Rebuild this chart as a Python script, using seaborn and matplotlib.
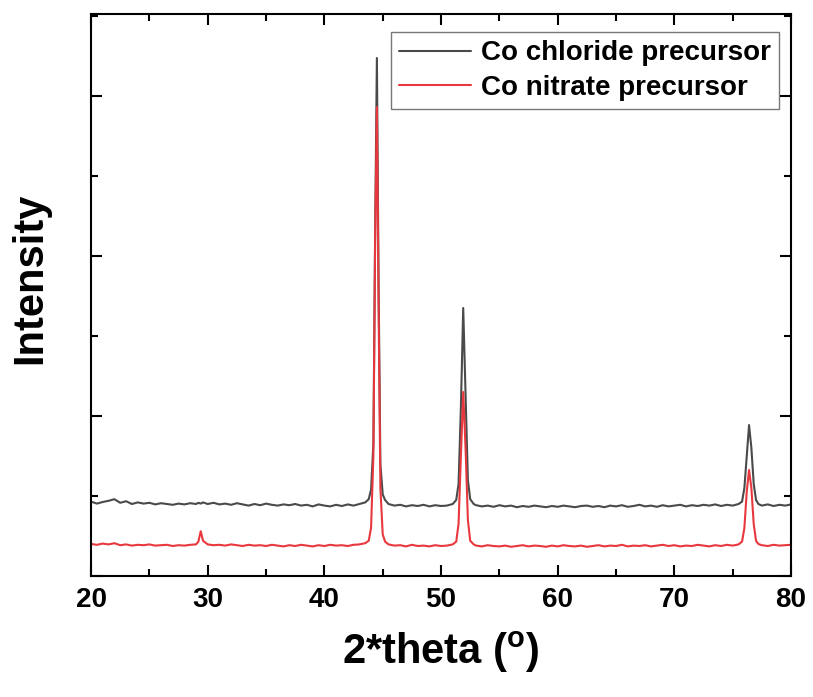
import pandas as pd
import matplotlib
matplotlib.use("Agg")
import matplotlib.pyplot as plt
import seaborn as sns
from matplotlib.ticker import MultipleLocator

# 2-theta positions (deg), shared by both patterns
two_theta = [
    20.0, 20.5, 21.0, 21.5, 22.0, 22.5, 23.0, 23.5, 24.0, 24.5,
    25.0, 25.5, 26.0, 26.5, 27.0, 27.5, 28.0, 28.5, 29.0,
    29.2, 29.4, 29.6,
    30.0, 30.5, 31.0, 31.5, 32.0, 32.5, 33.0, 33.5, 34.0, 34.5,
    35.0, 35.5, 36.0, 36.5, 37.0, 37.5, 38.0, 38.5, 39.0, 39.5,
    40.0, 40.5, 41.0, 41.5, 42.0, 42.5, 43.0, 43.5,
    43.8, 44.0, 44.2, 44.35, 44.5, 44.65, 44.8, 45.0, 45.2,
    45.5, 46.0, 46.5, 47.0, 47.5, 48.0, 48.5, 49.0, 49.5, 50.0, 50.5, 51.0,
    51.3, 51.5, 51.7, 51.9, 52.1, 52.3, 52.5, 52.8,
    53.0, 53.5, 54.0, 54.5, 55.0, 55.5, 56.0, 56.5, 57.0, 57.5,
    58.0, 58.5, 59.0, 59.5, 60.0, 60.5, 61.0, 61.5, 62.0, 62.5,
    63.0, 63.5, 64.0, 64.5, 65.0, 65.5, 66.0, 66.5, 67.0, 67.5,
    68.0, 68.5, 69.0, 69.5, 70.0, 70.5, 71.0, 71.5, 72.0, 72.5,
    73.0, 73.5, 74.0, 74.5, 75.0, 75.5,
    75.8, 76.0, 76.2, 76.4, 76.6, 76.8, 77.0, 77.2,
    77.5, 78.0, 78.5, 79.0, 79.5, 80.0,
]

# intensities (a.u., offset as plotted)
chloride = [
    930, 905, 925, 940, 960, 915, 935, 900, 920, 905,
    915, 895, 910, 900, 890, 905, 895, 910, 900,
    915, 905, 920,
    900, 915, 895, 905, 890, 910, 895, 880, 900, 885,
    905, 890, 880, 895, 885, 900, 880, 890, 870, 895,
    880, 870, 890, 875, 895, 880, 900, 920,
    960, 1080, 1650, 4300, 6475, 3600, 1400, 1020, 950,
    900, 880, 890, 870, 885, 875, 890, 870, 885, 875, 880, 900,
    950, 1150, 2100, 3350, 2300, 1200, 960, 900,
    885, 870, 880, 865, 885, 870, 880, 860, 875, 865,
    880, 870, 860, 875, 865, 880, 870, 860, 875, 880,
    865, 875, 860, 880, 870, 885, 865, 875, 890, 870,
    880, 865, 885, 870, 880, 890, 870, 885, 875, 890,
    880, 895, 875, 890, 880, 900,
    930, 1100, 1500, 1887, 1600, 1150, 950, 900,
    880, 895, 875, 890, 880, 895,
]

nitrate = [
    400, 390, 405, 395, 410, 385, 395, 380, 390, 385,
    395, 380, 385, 390, 375, 385, 380, 390, 395,
    430, 560, 440,
    395, 385, 390, 380, 395, 385, 375, 390, 380, 385,
    375, 390, 380, 370, 385, 375, 390, 380, 370, 385,
    375, 390, 380, 385, 375, 390, 395, 410,
    440, 600, 1500, 4200, 5862, 3300, 1100, 520, 430,
    395, 380, 385, 370, 390, 375, 380, 370, 385, 375, 380, 395,
    430, 650, 1500, 2300, 1600, 700, 440, 395,
    380, 370, 385, 375, 370, 380, 365, 375, 385, 370,
    380, 375, 365, 380, 370, 385, 375, 370, 380, 365,
    375, 385, 370, 380, 375, 390, 370, 380, 375, 385,
    370, 380, 390, 375, 385, 370, 380, 375, 390, 380,
    370, 385, 375, 390, 380, 395,
    430, 600, 1050, 1325, 1100, 650, 440, 400,
    385, 375, 390, 380, 385, 390,
]

labels = ["Co chloride precursor", "Co nitrate precursor"]
colors = ["#4a4a4a", "#e8383d"]

sns.set_style("white")
plt.rcParams["font.family"] = ["Liberation Sans", "DejaVu Sans"]
plt.rcParams["font.weight"] = "bold"
plt.rcParams["text.color"] = "black"
plt.rcParams["axes.labelcolor"] = "black"
plt.rcParams["xtick.color"] = "black"
plt.rcParams["ytick.color"] = "black"

fig = plt.figure(figsize=(8.13, 6.97), dpi=100)
ax = fig.add_axes([0.112, 0.1736, 0.861, 0.8063])

df = pd.DataFrame({"two_theta": two_theta, labels[0]: chloride, labels[1]: nitrate})
for lab, col in zip(labels, colors):
    sns.lineplot(data=df, x="two_theta", y=lab, color=col, linewidth=1.5, label=lab, ax=ax)

ax.set_xlim(20, 80)
ax.set_ylim(0, 7025)
ax.xaxis.set_major_locator(MultipleLocator(10))
ax.xaxis.set_minor_locator(MultipleLocator(5))
ax.yaxis.set_major_locator(MultipleLocator(2000))
ax.yaxis.set_minor_locator(MultipleLocator(1000))
ax.tick_params(which="both", direction="in", bottom=True, left=True, top=True, right=True,
               width=1.5, color="black")
ax.tick_params(which="major", length=8, labelsize=20, pad=8, labelcolor="black")
ax.tick_params(which="minor", length=5)
ax.set_yticklabels([])
for lbl in ax.get_xticklabels():
    lbl.set_fontweight("bold")
for s in ax.spines.values():
    s.set_linewidth(1.5)
    s.set_color("black")

ax.set_xlabel("2*theta ($\\mathregular{^o}$)", fontsize=30, fontweight="bold", labelpad=12)
ax.set_ylabel("Intensity", fontsize=30, fontweight="bold")
ax.yaxis.set_label_coords(-0.058, 0.53)

leg = ax.legend(loc="upper right", bbox_to_anchor=(0.983, 0.968), borderaxespad=0,
                fancybox=False, frameon=True, handlelength=2.6, handletextpad=0.35,
                borderpad=0.3, labelspacing=0.3, prop={"size": 20, "weight": "bold"})
leg.get_frame().set_edgecolor("#555555")
leg.get_frame().set_linewidth(1.0)
for t in leg.get_texts():
    t.set_color("black")

fig.savefig("out.png", dpi=100)
